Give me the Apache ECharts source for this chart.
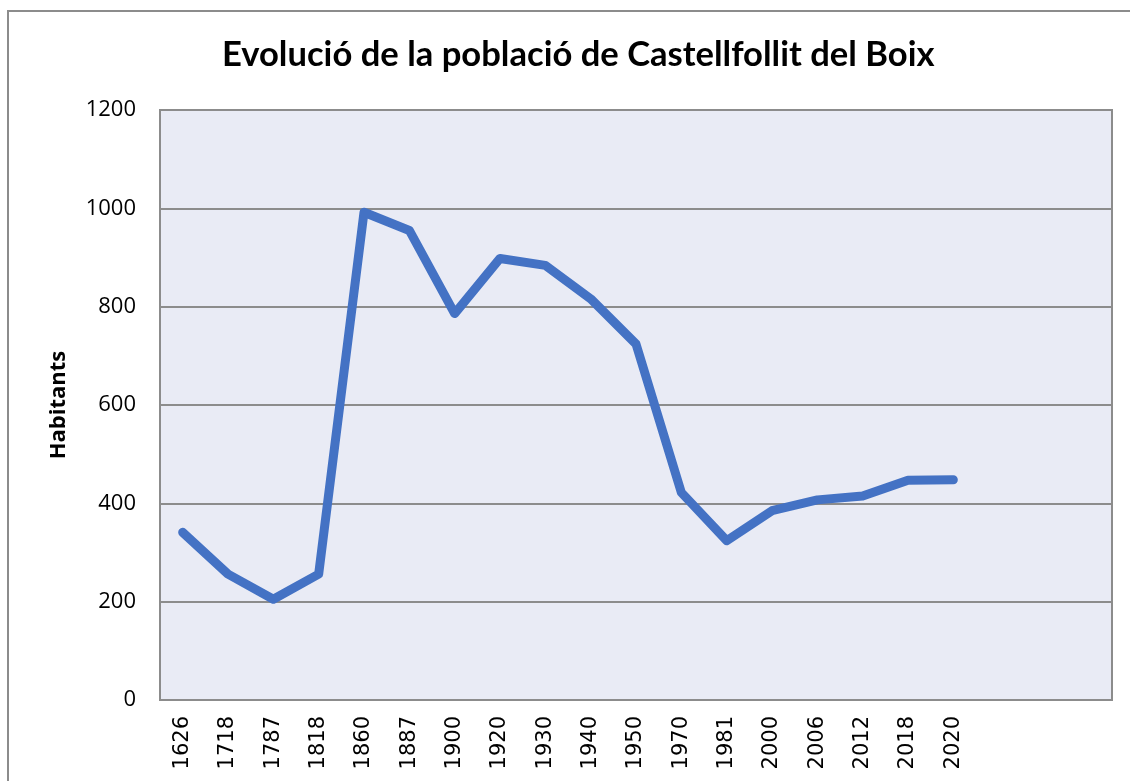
<!DOCTYPE html>
<html>
<head>
<meta charset="utf-8">
<script src="https://cdn.jsdelivr.net/npm/echarts@6/dist/echarts.min.js"></script>
<style>
    html, body { margin: 0; padding: 0; background: #fff; }
    #chart { width: 1130px; height: 781px; }
</style>
</head>
<body>
<div id="chart"></div>
<script>
// years shown on the axis (three blank slots follow, as in the original sheet)
const years = ['1626', '1718', '1787', '1818', '1860', '1887', '1900', '1920', '1930',
    '1940', '1950', '1970', '1981', '2000', '2006', '2012', '2018', '2020'];
const emptySlots = ['', '', ''];
const habitants = [341, 256, 205, 256, 992, 955, 786, 898, 884,
    816, 724, 422, 324, 385, 407, 415, 447, 448];
const yTicks = [0, 200, 400, 600, 800, 1000, 1200];

const chart = echarts.init(document.getElementById('chart'));

const options = {
    animation: false,
    title: {
        text: 'Evolució de la població de Castellfollit del Boix',
        left: 217,
        top: 32,
        textStyle: {
            fontFamily: 'Lato',
            fontWeight: 'bold',
            fontSize: 34.6,
            color: '#000',
        },
    },
    graphic: [
        {
            type: 'rect',
            shape: {x: 8, y: 11, width: 1140, height: 800},
            style: {fill: 'none', stroke: '#8c8c8c', lineWidth: 2},
            silent: true,
            z: -1,
        },
    ],
    grid: {
        left: 160,
        right: 18,
        top: 110,
        bottom: 81,
        show: true,
        backgroundColor: '#e9ebf5',
        borderColor: '#8c8c8c',
        borderWidth: 2,
    },
    xAxis: {
        type: 'category',
        boundaryGap: true,
        data: years.concat(emptySlots),
        axisLine: {show: false},
        axisTick: {show: false},
        axisLabel: {
            rotate: 90,
            interval: 0,
            margin: 16,
            fontFamily: 'DejaVu Sans',
            fontSize: 21,
            color: '#000',
        },
    },
    yAxis: {
        type: 'value',
        min: yTicks[0],
        max: yTicks[yTicks.length - 1],
        interval: 200,
        name: 'Habitants',
        nameLocation: 'middle',
        nameGap: 90,
        nameRotate: 90,
        nameTextStyle: {
            fontFamily: 'Open Sans',
            fontWeight: 'bold',
            fontSize: 22,
            color: '#000',
        },
        axisLine: {show: false},
        axisTick: {show: false},
        axisLabel: {
            margin: 24,
            fontFamily: 'Open Sans',
            fontSize: 22,
            color: '#000',
            formatter: (v) => String(v),
        },
        splitLine: {
            lineStyle: {color: '#8c8c8c', width: 2},
        },
    },
    series: [
        {
            type: 'line',
            data: habitants,
            symbol: 'none',
            lineStyle: {
                color: '#4472c4',
                width: 9,
                cap: 'round',
                join: 'round',
            },
        },
    ],
};

chart.setOption(options);
</script>
</body>
</html>
